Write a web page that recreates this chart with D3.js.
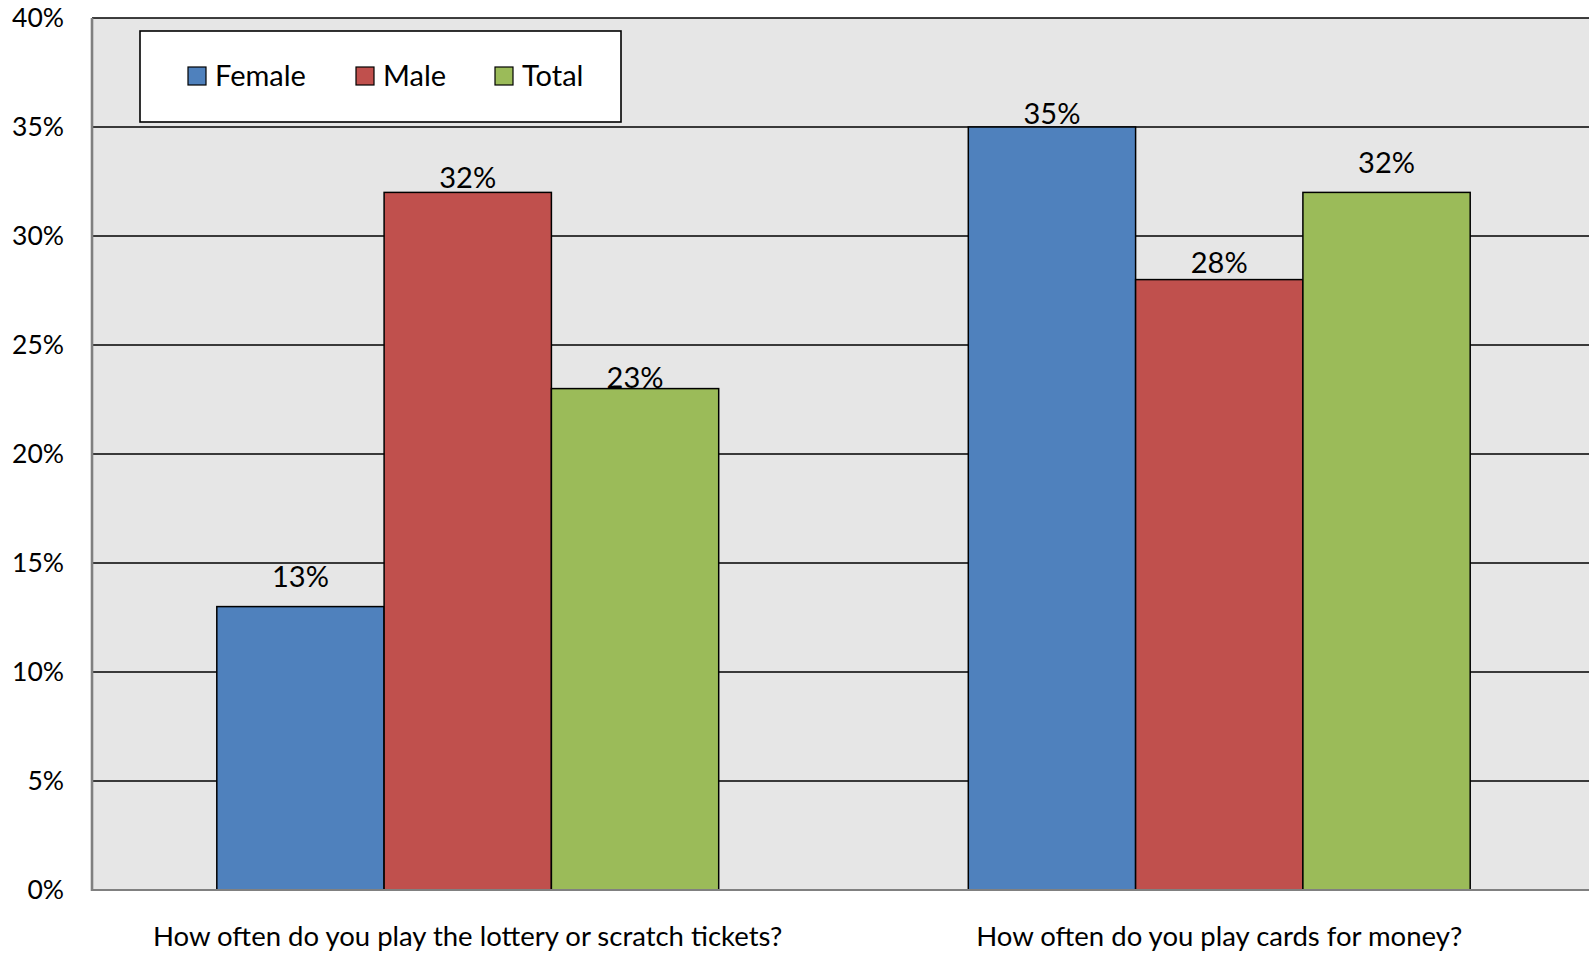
<!DOCTYPE html>
<html>
<head>
<meta charset="utf-8">
<script src="https://cdn.jsdelivr.net/npm/d3@7"></script>
<style>
  body { margin: 0; background: #fff; }
  svg text { font-family: Lato, "Open Sans", sans-serif; fill: #000; }
</style>
</head>
<body>
<script>
// chart data
var categories = ["How often do you play the lottery or scratch tickets?",
                  "How often do you play cards for money?"];
var series = ["Female", "Male", "Total"];
var female = [0.13, 0.35];
var male   = [0.32, 0.28];
var total  = [0.23, 0.32];
var yTicks = [0, 0.05, 0.10, 0.15, 0.20, 0.25, 0.30, 0.35, 0.40];

var colors = ["#4F81BD", "#C0504D", "#9BBB59"];

// labels were nudged by hand in the original, keep the nudges (px above bar top)
var labelLift = [[20, 4, 1], [3, 7, 19]];

var width = 1589,
    height = 954;

var margin = {left: 92, top: 18, right: -6, bottom: 64};

var svg = d3.select("body").append("svg")
    .attr("width", width)
    .attr("height", height);

var values = [female, male, total];

var x0 = d3.scaleBand()
    .domain(categories)
    .range([margin.left, width - margin.right])
    .padding(0);

var x1 = d3.scaleBand()
    .domain(series)
    .range([0, x0.bandwidth()])
    .paddingInner(0)
    .paddingOuter(0.746);

var y = d3.scaleLinear()
    .domain([0, 0.4])
    .range([height - margin.bottom, margin.top]);

// plot background
svg.append("rect")
    .attr("x", margin.left)
    .attr("y", y(0.4))
    .attr("width", width - margin.left)
    .attr("height", y(0) - y(0.4))
    .attr("fill", "#E6E6E6");

// gridlines
svg.append("g")
  .selectAll("line")
  .data(yTicks.slice(1))
  .enter().append("line")
    .attr("x1", margin.left)
    .attr("x2", width)
    .attr("y1", function(d) { return y(d); })
    .attr("y2", function(d) { return y(d); })
    .attr("stroke", "#000")
    .attr("stroke-width", 1.6);

// y axis labels
var yAxis = svg.append("g")
    .attr("transform", "translate(" + margin.left + ",0)")
    .call(d3.axisLeft(y).tickValues(yTicks).tickFormat(d3.format(".0%")).tickSize(0).tickPadding(28));
yAxis.select(".domain").remove();
yAxis.selectAll("text")
    .attr("font-size", 26.5)
    .attr("font-family", "Lato");

// bars
var group = svg.append("g")
  .selectAll("g")
  .data(categories)
  .enter().append("g")
    .attr("transform", function(d) { return "translate(" + x0(d) + ",0)"; });

group.selectAll("rect")
  .data(function(d, i) { return series.map(function(s, j) { return {s: s, v: values[j][i], i: i, j: j}; }); })
  .enter().append("rect")
    .attr("x", function(d) { return x1(d.s); })
    .attr("y", function(d) { return y(d.v); })
    .attr("width", x1.bandwidth())
    .attr("height", function(d) { return y(0) - y(d.v); })
    .attr("fill", function(d) { return colors[d.j]; })
    .attr("stroke", "#000")
    .attr("stroke-width", 1.5);

group.selectAll("text")
  .data(function(d, i) { return series.map(function(s, j) { return {s: s, v: values[j][i], i: i, j: j}; }); })
  .enter().append("text")
    .attr("x", function(d) { return x1(d.s) + x1.bandwidth() / 2; })
    .attr("y", function(d) { return y(d.v) - labelLift[d.i][d.j]; })
    .attr("text-anchor", "middle")
    .attr("font-size", 29)
    .text(function(d) { return d3.format(".0%")(d.v); });

// axis lines
svg.append("line")
    .attr("x1", margin.left).attr("x2", margin.left)
    .attr("y1", y(0.4)).attr("y2", y(0) + 1)
    .attr("stroke", "#808080").attr("stroke-width", 2.6);
svg.append("line")
    .attr("x1", margin.left).attr("x2", width)
    .attr("y1", y(0)).attr("y2", y(0))
    .attr("stroke", "#808080").attr("stroke-width", 2.2);

// category labels
svg.append("g")
  .selectAll("text")
  .data(categories)
  .enter().append("text")
    .attr("x", function(d) { return x0(d) + x0.bandwidth() / 2; })
    .attr("y", 946)
    .attr("text-anchor", "middle")
    .attr("font-size", 27.5)
    .text(function(d) { return d; });

// legend
var legend = svg.append("g");
legend.append("rect")
    .attr("x", 140).attr("y", 31)
    .attr("width", 481).attr("height", 91)
    .attr("fill", "#fff")
    .attr("stroke", "#000")
    .attr("stroke-width", 1.6);

var legendX = [188, 356, 495];
var item = legend.selectAll("g.item")
  .data(series)
  .enter().append("g")
    .attr("class", "item")
    .attr("transform", function(d, i) { return "translate(" + legendX[i] + ",67)"; });
item.append("rect")
    .attr("width", 18).attr("height", 18)
    .attr("fill", function(d, i) { return colors[i]; })
    .attr("stroke", "#000")
    .attr("stroke-width", 1.2);
item.append("text")
    .attr("x", 27)
    .attr("y", 19)
    .attr("font-size", 29)
    .text(function(d) { return d; });
</script>
</body>
</html>
